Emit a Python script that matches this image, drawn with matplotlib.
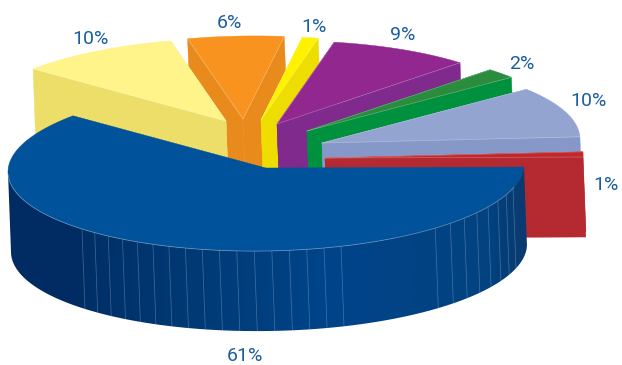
import numpy as np
import matplotlib
matplotlib.use("Agg")
from matplotlib import pyplot as plt
from matplotlib.colors import LinearSegmentedColormap
from matplotlib.patches import Polygon

# shares, clockwise from the big slice
names = ["blue", "pale", "orange", "yellow", "purple", "green", "steel", "red"]
shares = [61, 10, 6, 1, 9, 2, 10, 1]

top_colors = ["#00529b", "#fff48a", "#f7931e", "#fff200", "#92278f", "#2a8c3c", "#92a4cf", "#c1272d"]
wall_colors = ["#003f7f", "#ecde68", "#e98a1c", "#eedd00", "#7f2a8c", "#00913f", "#8698c7", "#b52a30"]

# where each slice's tip sits once pulled out of the pie
tips = [(266, 168), (226, 121), (243, 119), (261, 120), (277, 124), (307, 131), (322, 143), (325, 158)]
label_xy = [(245, 361), (91, 44), (229, 28), (314, 32), (403, 40), (522, 69), (589, 106), (606, 190)]

RX, RY = 258, 83
DEPTH = 80
SLANT = 3
TILT = 0.015
START = -2

# back to front, the big slice goes on separately
draw_order = [2, 1, 3, 4, 5, 6, 7]


def rim(tip, deg):
    t = np.radians(deg)
    dx = RX * np.cos(t)
    return np.column_stack([tip[0] + dx, tip[1] - RY * np.sin(t) - TILT * dx])


def slice_angles():
    # slices run clockwise, so the angle keeps going down
    edges = START - np.cumsum([0] + shares) * 3.6
    return edges[:-1], edges[1:]


def top_face(ax, tip, a0, a1, color):
    arc = rim(tip, np.linspace(a0, a1, max(int(abs(a1 - a0) * 2), 2)))
    ax.add_patch(Polygon(np.vstack([tip, arc]), fc=color, ec=color, lw=0.3))
    return arc


def draw_slice(ax, tip, a0, a1, top, wall):
    tip_pt = np.array(tip, dtype=float)
    down = np.array([SLANT, DEPTH])
    ends = rim(tip, np.array([a0, a1]))
    for end in ends:
        quad = [end, tip_pt, tip_pt + down, end + down]
        ax.add_patch(Polygon(quad, fc=wall, ec=wall, lw=0.3))
    top_face(ax, tip, a0, a1, top)
    # pale seams along the cut edges
    for end in ends:
        ax.plot([end[0], tip_pt[0]], [end[1], tip_pt[1]], color="white", lw=0.5, alpha=0.3)


def draw_blue_side(ax, tip):
    cmap = LinearSegmentedColormap.from_list(
        "side", [(0, "#002c63"), (0.13, "#002c63"), (0.16, "#003068"), (0.4, "#003c78"),
                 (0.62, "#01448a"), (0.93, "#01427f"), (1, "#0b3a6e")]
    )
    deg = np.arange(180, 359.5, 0.5)
    upper = rim(tip, deg)
    outline = np.vstack([upper, (upper + (SLANT, DEPTH))[::-1]])
    clip = Polygon(outline, transform=ax.transData, fc="none", ec="none")
    ax.add_patch(clip)
    # horizontal ramp, clipped to the wall's outline
    ramp = np.linspace(0, 1, 300)[None, :]
    ax.imshow(ramp, cmap=cmap, extent=(8, 528, 340, 160), aspect="auto", clip_path=clip, zorder=1.5)
    # facet seams on the side wall
    seams = np.concatenate([np.arange(224.5, 287, 3.9), np.arange(311, 347, 4.6)])
    for s in seams:
        p = rim(tip, s)[0]
        ax.plot([p[0], p[0] + SLANT], [p[1], p[1] + DEPTH], color="#a9bfd8", lw=0.5, alpha=0.4, zorder=1.6)
    edge = rim(tip, np.arange(182, 345, 1.0))
    ax.plot(edge[:, 0], edge[:, 1], color="#8fa9c8", lw=0.6, alpha=0.6, zorder=2.5)


fig = plt.figure(figsize=(6.22, 3.65), dpi=100)
ax = fig.add_axes([0, 0, 1, 1])
ax.set_axis_off()

a_start, a_end = slice_angles()
for i in draw_order:
    draw_slice(ax, tips[i], a_start[i], a_end[i], top_colors[i], wall_colors[i])

draw_blue_side(ax, tips[0])
big_top = Polygon(np.vstack([tips[0], rim(tips[0], np.linspace(a_start[0], a_end[0], 440))]),
                  fc=top_colors[0], ec=top_colors[0], lw=0.3, zorder=2)
ax.add_patch(big_top)

ax.set_xlim(0, 622)
ax.set_ylim(365, 0)

for share, (x, y) in zip(shares, label_xy):
    ax.text(x, y, f"{share}%", color="#1b5e9f", fontsize=14, family="Roboto", ha="center", va="baseline", zorder=3)

fig.savefig("out.png", dpi=100)
